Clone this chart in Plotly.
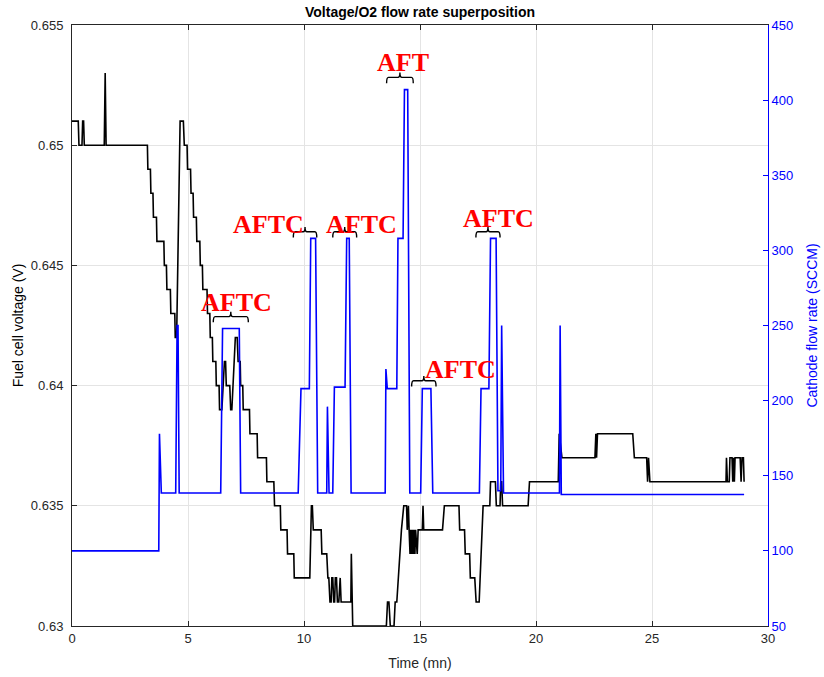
import plotly.graph_objects as go

# ---------------- data ----------------
# Fuel cell voltage (V) vs time (mn)
volt_t = [0, 0.27, 0.30, 0.43, 0.46, 0.50, 0.53, 1.39, 1.43, 1.47,
          3.25, 3.27, 3.38, 3.40, 3.49, 3.51, 3.64, 3.66, 3.96, 3.98,
          4.07, 4.09, 4.24, 4.26, 4.43, 4.45, 4.51, 4.66, 4.80, 4.84,
          4.96, 4.98, 5.11, 5.13, 5.22, 5.24, 5.36, 5.38, 5.51, 5.53,
          5.62, 5.64, 5.82, 5.84, 5.94, 5.96, 6.05, 6.07, 6.20, 6.22,
          6.34, 6.36, 6.46, 6.57, 6.62, 6.65, 6.80, 6.84, 6.89, 6.93,
          6.95, 7.04, 7.12, 7.16, 7.25, 7.27, 7.36, 7.38, 7.65, 7.67,
          7.98, 8.00, 8.38, 8.40, 8.70, 8.73, 8.98, 9.00, 9.27, 9.29,
          9.56, 9.58, 10.25, 10.32, 10.36, 10.40, 10.74, 10.77, 10.98, 11.03,
          11.07, 11.12, 11.17, 11.20, 11.24, 11.28, 11.32, 11.35, 11.40, 11.44,
          11.50, 11.53, 11.56, 11.60, 12.02, 12.04, 12.10, 13.55, 13.60, 13.66,
          13.72, 13.88, 13.93, 14.00, 14.20, 14.30, 14.42, 14.45, 14.50, 14.53,
          14.57, 14.60, 14.64, 14.67, 14.71, 14.74, 14.78, 14.81, 14.85, 14.88,
          14.92, 15.10, 15.13, 15.16, 15.97, 16.05, 16.68, 16.71, 16.92, 16.95,
          17.14, 17.17, 17.36, 17.42, 17.55, 17.66, 17.72, 18.01, 18.04, 18.25,
          18.29, 18.45, 18.48, 18.52, 18.56, 19.66, 19.72, 20.96, 21.00, 21.12,
          22.54, 22.58, 22.61, 22.65, 22.72, 24.17, 24.24, 24.77, 24.81, 24.85,
          24.91, 28.19, 28.21, 28.25, 28.33, 28.36, 28.45, 28.48, 28.52, 28.55,
          28.58, 28.80, 28.84, 28.88, 28.94, 28.97]
volt_v = [0.651, 0.651, 0.650, 0.650, 0.651, 0.651, 0.650, 0.650, 0.653, 0.650,
          0.650, 0.649, 0.649, 0.648, 0.648, 0.647, 0.647, 0.646, 0.646, 0.645,
          0.645, 0.644, 0.644, 0.643, 0.643, 0.642, 0.642, 0.651, 0.651, 0.650,
          0.650, 0.649, 0.649, 0.648, 0.648, 0.647, 0.647, 0.646, 0.646, 0.645,
          0.645, 0.644, 0.644, 0.643, 0.643, 0.642, 0.642, 0.641, 0.641, 0.640,
          0.640, 0.639, 0.639, 0.641, 0.641, 0.640, 0.640, 0.639, 0.639, 0.640,
          0.640, 0.642, 0.642, 0.641, 0.641, 0.640, 0.640, 0.639, 0.639, 0.638,
          0.638, 0.637, 0.637, 0.636, 0.636, 0.635, 0.635, 0.634, 0.634, 0.633,
          0.633, 0.632, 0.632, 0.635, 0.635, 0.634, 0.634, 0.633, 0.633, 0.632,
          0.632, 0.631, 0.631, 0.632, 0.632, 0.631, 0.631, 0.632, 0.632, 0.631,
          0.631, 0.632, 0.632, 0.631, 0.631, 0.633, 0.630, 0.630, 0.631, 0.631,
          0.630, 0.630, 0.631, 0.631, 0.634, 0.635, 0.635, 0.634, 0.635, 0.634,
          0.633, 0.634, 0.633, 0.634, 0.633, 0.634, 0.633, 0.634, 0.633, 0.633,
          0.634, 0.634, 0.635, 0.634, 0.634, 0.635, 0.635, 0.634, 0.634, 0.633,
          0.633, 0.632, 0.632, 0.631, 0.631, 0.634, 0.635, 0.635, 0.636, 0.636,
          0.635, 0.635, 0.636, 0.636, 0.635, 0.635, 0.636, 0.636, 0.638, 0.637,
          0.637, 0.638, 0.637, 0.638, 0.638, 0.638, 0.637, 0.637, 0.636, 0.637,
          0.636, 0.636, 0.637, 0.636, 0.636, 0.637, 0.637, 0.636, 0.637, 0.636,
          0.637, 0.637, 0.636, 0.637, 0.637, 0.636]

# Cathode (O2) flow rate (SCCM) vs time (mn)
flow_t = [0, 3.74, 3.77, 3.85, 4.47, 4.53, 4.57, 4.62,
          6.41, 6.49, 7.21, 7.27,
          9.75, 9.87, 10.23, 10.29, 10.50, 10.59,
          10.98, 11.01, 11.08,
          11.24, 11.31, 11.77, 11.84, 11.95, 12.03,
          13.50, 13.53, 13.59, 14.00, 14.05, 14.27, 14.33, 14.47, 14.56,
          15.03, 15.10, 15.47, 15.55,
          17.56, 17.63, 17.97, 18.04, 18.28, 18.36, 18.48, 18.52, 18.60,
          21.01, 21.04, 21.09, 28.97]
flow_v = [100, 100, 178, 138.5, 138.5, 250, 250, 138.5,
          138.5, 248, 248, 138.5,
          138.5, 208, 208, 308, 308, 138.5,
          138.5, 196, 138.5,
          138.5, 209, 209, 308, 308, 138.5,
          138.5, 221, 208, 208, 308, 308, 407, 407, 138.5,
          138.5, 208, 208, 138.5,
          138.5, 208, 208, 308, 308, 140, 140, 250, 138.5,
          138.5, 250, 137.5, 137.5]

# Annotations: label, text centre (t, V), brace start/end (t) and brace level (V)
note_text = ["AFTC", "AFTC", "AFTC", "AFT", "AFTC", "AFTC"]
note_t = [7.07, 8.45, 12.46, 14.25, 16.75, 18.39]
note_v = [0.64346, 0.64672, 0.64672, 0.65344, 0.64069, 0.64696]
brace_t0 = [6.09, 9.54, 11.24, 13.56, 14.64, 17.41]
brace_t1 = [7.60, 10.55, 12.27, 14.71, 15.69, 18.45]
brace_v = [0.64287, 0.64640, 0.64640, 0.65282, 0.64020, 0.64640]

x_ticks = [0, 5, 10, 15, 20, 25, 30]
volt_ticks = [0.63, 0.635, 0.64, 0.645, 0.65, 0.655]
volt_ticktext = ["0.63", "0.635", "0.64", "0.645", "0.65", "0.655"]
flow_ticks = [50, 100, 150, 200, 250, 300, 350, 400, 450]

# ---------------- figure ----------------
AX = "#262626"
GRID = "#e4e4e4"
BLUE = "#0000ff"
FONT = "Liberation Sans"

fig = go.Figure()
fig.add_trace(go.Scatter(x=volt_t, y=volt_v, mode="lines",
                         line=dict(color="black", width=1.6),
                         yaxis="y", showlegend=False, hoverinfo="skip"))
fig.add_trace(go.Scatter(x=flow_t, y=flow_v, mode="lines",
                         line=dict(color=BLUE, width=1.6),
                         yaxis="y2", showlegend=False, hoverinfo="skip"))

# braces (drawn in data coordinates of the voltage axis)
drop = 0.00024
rise = 0.00020
dx = 0.08
for a, b, v in zip(brace_t0, brace_t1, brace_v):
    m = (a + b) / 2
    path = (f"M {a},{v - drop} Q {a},{v} {a + dx},{v} "
            f"L {m - dx},{v} Q {m},{v} {m},{v + rise} "
            f"Q {m},{v} {m + dx},{v} L {b - dx},{v} Q {b},{v} {b},{v - drop}")
    fig.add_shape(type="path", path=path, xref="x", yref="y",
                  line=dict(color="black", width=1.4))

for txt, t, v in zip(note_text, note_t, note_v):
    fig.add_annotation(x=t, y=v, xref="x", yref="y", text=f"<b>{txt}</b>",
                       showarrow=False, xanchor="center", yanchor="middle",
                       font=dict(family="Liberation Serif", size=26, color="#ff0000"))

W, H = 824, 677
fig.update_layout(
    width=W, height=H,
    margin=dict(l=72, r=56, t=25, b=51, autoexpand=False),
    paper_bgcolor="white", plot_bgcolor="white",
    font=dict(family=FONT, size=13, color=AX),
    title=dict(text="<b>Voltage/O2 flow rate superposition</b>",
               font=dict(family=FONT, size=14, color="black"),
               x=0.5, xref="paper", xanchor="center",
               y=1 - 12 / H, yref="container", yanchor="middle", automargin=False),
    xaxis=dict(range=[0, 30], tickvals=x_ticks, ticks="inside", ticklen=5,
               tickcolor=AX, showline=True, linecolor=AX, linewidth=1,
               mirror="ticks", showgrid=True, gridcolor=GRID, zeroline=False,
               automargin=False, tickfont=dict(size=13, color=AX),
               title=dict(text="Time (mn)", font=dict(size=14, color=AX), standoff=13)),
    yaxis=dict(range=[0.63, 0.655], tickvals=volt_ticks, ticktext=volt_ticktext,
               ticks="inside", ticklen=5, tickcolor=AX, showline=True,
               linecolor=AX, linewidth=1, showgrid=True, gridcolor=GRID,
               zeroline=False, automargin=False, ticklabelstandoff=5,
               tickfont=dict(size=13, color=AX),
               title=dict(text="Fuel cell voltage (V)", font=dict(size=14, color="black"),
                          standoff=3)),
    yaxis2=dict(range=[50, 450], tickvals=flow_ticks, overlaying="y", side="right",
                ticks="inside", ticklen=5, tickcolor=BLUE, showline=True,
                linecolor=BLUE, linewidth=1, showgrid=False, zeroline=False,
                automargin=False, tickfont=dict(size=13, color=BLUE),
                title=dict(text="Cathode flow rate (SCCM)", font=dict(size=14, color=BLUE),
                           standoff=14)),
)

# remove the browser's default 8 px body margin so the figure sits at the page origin
fig.write_html("out.html", config={"displayModeBar": False},
               post_script="document.body.style.margin='0';")
